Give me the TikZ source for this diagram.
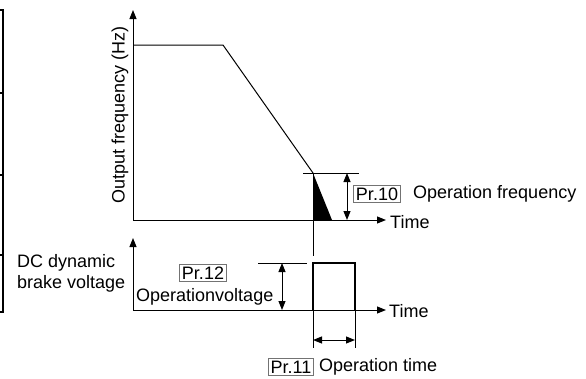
\documentclass[tikz,border=0pt]{standalone}
\usepackage{fontspec}
\setmainfont{Liberation Sans}
\usetikzlibrary{arrows.meta}
\begin{document}
\begin{tikzpicture}[x=1pt,y=-1pt,
  every node/.style={font=\fontsize{18}{21}\selectfont, inner sep=0pt},
  ax/.style={line width=1pt,-{Triangle[length=9pt,width=7pt]}},
  thin/.style={line width=1pt},
  dim/.style={line width=1pt,{Triangle[length=9pt,width=7pt]}-{Triangle[length=9pt,width=7pt]}},
  prbox/.style={draw=black!55,line width=0.8pt,inner xsep=2.5pt,inner ysep=2.5pt},
  lbl/.style={anchor=west}]
\useasboundingbox (0,0) rectangle (586,378);
% left table edge
\draw[line width=2pt] (3,10) -- (3,312);
\foreach \yy in {10,93,175,255,312} \draw[line width=2pt] (0,\yy) -- (4,\yy);
% coordinates
\coordinate (o1) at (133,220);
\coordinate (y1) at (133,10);
\coordinate (x1) at (386,220);
\coordinate (o2) at (133,310);
\coordinate (y2) at (133,238);
\coordinate (x2) at (386,310);
\coordinate (p0) at (133,45);
\coordinate (p1) at (223,45);
\coordinate (p2) at (313,173);
\coordinate (p3) at (313,220);
\coordinate (p4) at (332,220);
% axes
\draw[ax] (o1) -- (y1);
\draw[ax] (o1) -- (x1);
\draw[ax] (o2) -- (y2);
\draw[ax] (o2) -- (x2);
% frequency curve
\draw[thin] (p0) -- (p1) -- (p2);
\fill (p2) -- (p3) -- (p4) -- cycle;
% extension lines
\coordinate (e1) at (303,173);
\coordinate (e2) at (359,173);
\draw[thin] (e1) -- (e2);
\coordinate (v1) at (313,256);
\draw[thin] (p2) -- (v1);
% Pr.10 dimension
\coordinate (d1) at (347,173);
\coordinate (d2) at (347,220);
\draw[dim] (d1) -- (d2);
% pulse
\coordinate (r1) at (313,310);
\coordinate (r2) at (313,263);
\coordinate (r3) at (355,263);
\coordinate (r4) at (355,310);
\draw[line width=2pt] (r1) -- (r2) -- (r3) -- (r4);
\coordinate (r1b) at (313,348);
\coordinate (r4b) at (355,348);
\draw[thin] (r1) -- (r1b);
\draw[thin] (r4) -- (r4b);
\coordinate (t1) at (313,340);
\coordinate (t2) at (355,340);
\draw[dim] (t1) -- (t2);
% Pr.12
\coordinate (h1) at (258,263);
\coordinate (h2) at (307,263);
\draw[thin] (h1) -- (h2);
\coordinate (g1) at (282,263);
\coordinate (g2) at (282,310);
\draw[dim] (g1) -- (g2);
% labels
\node[rotate=90] (ylab) at (120,115) {Output frequency (Hz)};
\node[lbl] (time1) at (390,222) {Time};
\node[lbl] (time2) at (389,311) {Time};
\node[prbox] (pr10) at (377,194) {Pr.10};
\node[lbl] (of) at (413,194) {Operation frequency};
\node[prbox] (pr12) at (203,273) {Pr.12};
\node[lbl] (ov) at (136,297) {Operationvoltage};
\node[prbox] (pr11) at (291,367) {Pr.11};
\node[lbl] (ot) at (319,367) {Operation time};
\node[lbl,align=left] (dc) at (17,273) {DC dynamic\\brake voltage};
\end{tikzpicture}
\end{document}
